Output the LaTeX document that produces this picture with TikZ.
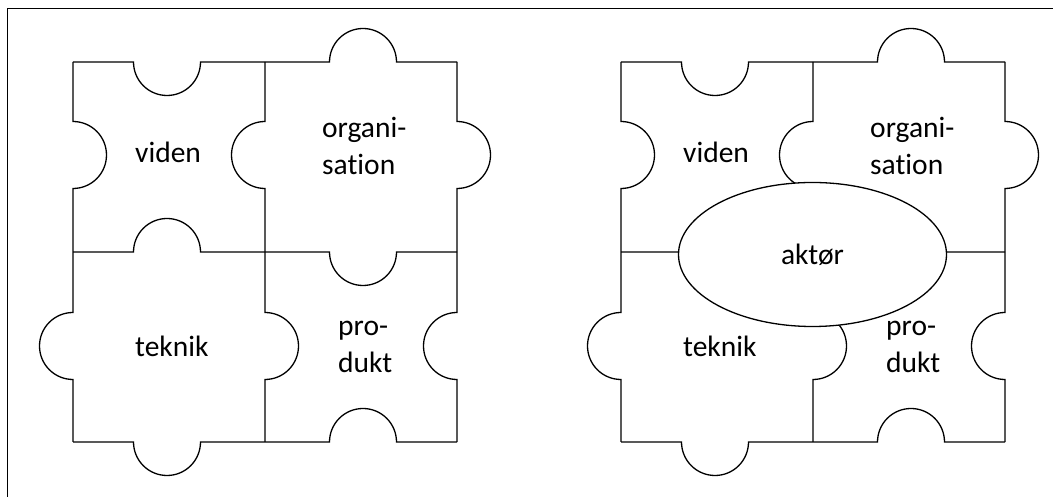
\documentclass[tikz,border=0pt]{standalone}
\usepackage{fontspec}
\setmainfont[Ligatures={NoCommon}]{Carlito}
\usetikzlibrary{shapes.geometric}

% tab radius and tab centres of the 2x2 puzzle grid
\def\tabr{33.5}
\def\colA{167}\def\colB{363}
\def\rowA{342}\def\rowB{151}

% horizontal seam at height #1; #2/#3 = +1 (tab up) or -1 (tab down) for the two columns
\newcommand{\hseam}[3]{%
  \draw[seam] (73,#1) -- (\colA-\tabr,#1)
    arc[start angle=180, delta angle={-180*(#2)}, radius=\tabr]
    -- (\colB-\tabr,#1)
    arc[start angle=180, delta angle={-180*(#3)}, radius=\tabr]
    -- (457,#1);}
% vertical seam at x=#1; #2/#3 = +1 (tab right) or -1 (tab left) for the two rows
\newcommand{\vseam}[3]{%
  \draw[seam] (#1,435) -- (#1,\rowA+\tabr)
    arc[start angle=90, delta angle={-180*(#2)}, radius=\tabr]
    -- (#1,\rowB+\tabr)
    arc[start angle=90, delta angle={-180*(#3)}, radius=\tabr]
    -- (#1,55);}

% the four pieces of one puzzle
\newcommand{\puzzlegrid}{%
  \hseam{435}{-1}{1}
  \hseam{245}{1}{-1}
  \hseam{55}{-1}{1}
  \vseam{73}{1}{-1}
  \vseam{265}{-1}{1}
  \vseam{457}{1}{-1}}

\begin{document}
\begin{tikzpicture}[x=1pt, y=1pt,
  seam/.style={line width=1.3pt, line join=miter},
  frame/.style={line width=1.6pt},
  label/.style={font=\fontsize{29.5}{37}\selectfont, inner sep=0pt, align=left, anchor=base west},
  actor/.style={ellipse, draw, line width=1.3pt, fill=white, inner sep=0pt,
    minimum width=268pt, minimum height=144pt, font=\fontsize{29.5}{37}\selectfont}]
\useasboundingbox (0,0) rectangle (1053,497);
\draw[frame] (7.5,0) -- (7.5,488.5) -- (1053,488.5);

% left puzzle (two-line labels are placed by the baseline of their last line)
\puzzlegrid
\node[label] (viden1) at (135,334) {viden};
\node[label] (org1) at (322,322) {organi-\\sation};
\node[label] (teknik1) at (135,140.3) {teknik};
\node[label] (prod1) at (338,124.3) {pro-\\dukt};

% right puzzle with the actor on top
\begin{scope}[xshift=548pt]
\puzzlegrid
\node[label] (viden2) at (135,334) {viden};
\node[label] (org2) at (322,322) {organi-\\sation};
\node[label] (teknik2) at (135,140.3) {teknik};
\node[label] (prod2) at (338,124.3) {pro-\\dukt};
\node[actor] (aktor) at (264.5,242.5) {aktør};
\end{scope}
\end{tikzpicture}
\end{document}
